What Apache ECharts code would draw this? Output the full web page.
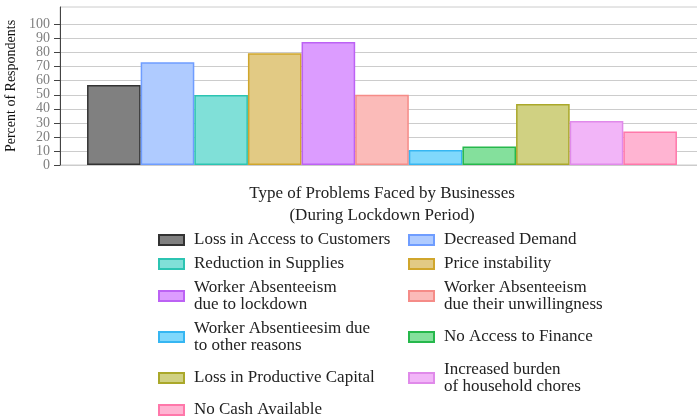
<!DOCTYPE html>
<html>
<head>
<meta charset="utf-8">
<script src="https://cdn.jsdelivr.net/npm/echarts@6/dist/echarts.min.js"></script>
<style>
  html, body { margin: 0; padding: 0; background: #fff; }
  #chart { width: 697px; height: 420px; }
</style>
</head>
<body>
<div id="chart"></div>
<script>
// problems faced by businesses during lockdown, percent of respondents
const problems = [
  'Loss in Access to Customers',
  'Decreased Demand',
  'Reduction in Supplies',
  'Price instability',
  'Worker Absenteeism\ndue to lockdown',
  'Worker Absenteeism\ndue their unwillingness',
  'Worker Absentieesim due\nto other reasons',
  'No Access to Finance',
  'Loss in Productive Capital',
  'Increased burden\nof household chores',
  'No Cash Available'
];
const percents = [57, 73.1, 49.9, 79.6, 87.6, 50, 10.7, 13.1, 43.4, 31.3, 23.8];
const yTicks = [0, 10, 20, 30, 40, 50, 60, 70, 80, 90, 100];

const fills = ['#808080', '#afcbff', '#80e0d8', '#e2ca84', '#dc9cff', '#fbbbb9',
  '#80d8fc', '#84e09c', '#d0d182', '#f2b5f8', '#ffb4d2'];
const borders = ['#333333', '#6f9dff', '#2cc4b2', '#d0a62c', '#bc62f4', '#f58c88',
  '#36b6f2', '#26b84c', '#aaa82a', '#e08aea', '#ff78aa'];

// legend laid out as a 2-column grid, one legend per row
const legendRows = [[0, 1], [2, 3], [4, 5], [6, 7], [8, 9], [10]];
const rowTops = [231.5, 255.5, 279, 320, 361, 401.5];

const serif = '"Liberation Serif", "Times New Roman", serif';

// split lines every 10; hide the one at 110 (top edge comes from grid border)
const gridColors = [];
for (let i = 0; i < 13; i++) gridColors.push(i === 11 ? 'rgba(0,0,0,0)' : '#cccccc');

const chart = echarts.init(document.getElementById('chart'));

const series = problems.map((name, i) => ({
  name: name,
  type: 'bar',
  data: [percents[i]],
  barGap: '0%',
  barCategoryGap: '8.4%',
  itemStyle: { color: fills[i], borderColor: borders[i], borderWidth: 1.5 },
  emphasis: { disabled: true }
}));

const legends = legendRows.map((row, r) => ({
  top: rowTops[r],
  left: 158,
  orient: 'horizontal',
  padding: 0,
  itemGap: 10,
  itemWidth: 25,
  itemHeight: 10,
  icon: 'rect',
  selectedMode: false,
  data: row.map(i => problems[i]),
  textStyle: {
    fontFamily: serif,
    fontSize: 17,
    lineHeight: 17,
    color: '#222',
    width: 204,
    padding: [0, 0, 0, 5]
  }
}));

chart.setOption({
  animation: false,
  grid: {
    left: 60, width: 644, top: 7, bottom: 255,
    outerBoundsMode: 'none',
    show: true, borderColor: '#cccccc', borderWidth: 1
  },
  legend: legends,
  xAxis: {
    type: 'category',
    data: [''],
    axisLine: { show: false },
    axisTick: { show: false },
    axisLabel: { show: false },
    name: 'Type of Problems Faced by Businesses\n(During Lockdown Period)',
    nameLocation: 'middle',
    nameGap: 18,
    nameTextStyle: { fontFamily: serif, fontSize: 17, lineHeight: 22, color: '#222' }
  },
  yAxis: {
    type: 'value',
    min: 0,
    max: 112.5,
    interval: 10,
    name: 'Percent of Respondents',
    nameLocation: 'middle',
    nameGap: 40,
    nameTextStyle: { fontFamily: serif, fontSize: 14, color: '#111' },
    axisLine: { show: true, lineStyle: { color: '#444', width: 1 } },
    axisTick: { show: true, length: 6, customValues: yTicks, lineStyle: { color: '#444' } },
    axisLabel: {
      customValues: yTicks,
      margin: 10,
      fontFamily: serif,
      fontSize: 14,
      color: '#808080'
    },
    splitLine: { show: true, lineStyle: { color: gridColors, width: 1 } }
  },
  series: series
});
</script>
</body>
</html>
